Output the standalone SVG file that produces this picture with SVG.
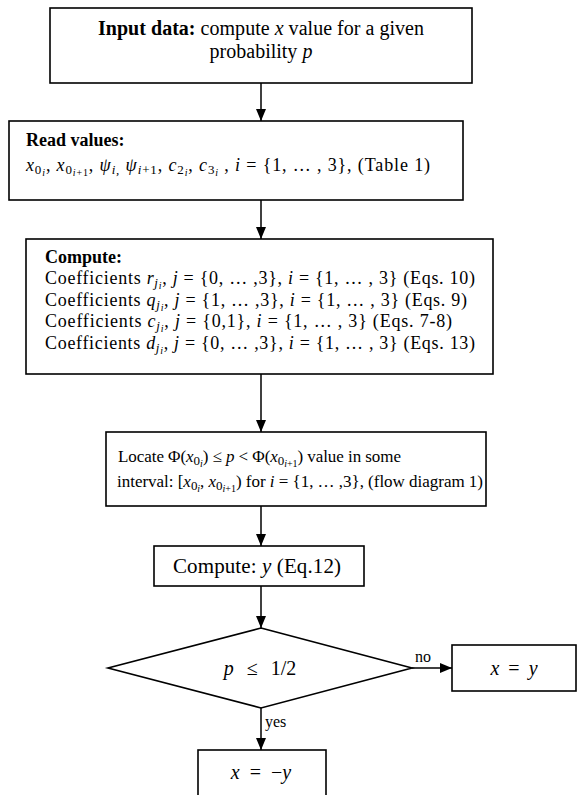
<svg xmlns="http://www.w3.org/2000/svg" width="577" height="795" viewBox="0 0 577 795">
<style>
.box{fill:#fff;stroke:#000;stroke-width:1.6}
.t{font-family:"Liberation Serif","Times New Roman",serif;font-size:18px;fill:#000}
.i{font-style:italic}
.b{font-weight:bold}
.s1{font-size:13px}
.s2{font-size:10px}
.c{text-anchor:middle}
.ln{stroke:#000;stroke-width:1.5;fill:none}
</style>
<defs>
<marker id="ah" viewBox="0 0 12 10" refX="12" refY="5" markerWidth="12" markerHeight="10" markerUnits="userSpaceOnUse" orient="auto">
<path d="M0,0 L12,5 L0,10 z" fill="#000"/>
</marker>
</defs>
<rect width="577" height="795" fill="#fff"/>
<g id="connectors">
<line class="ln" x1="261" y1="83" x2="261" y2="121" marker-end="url(#ah)"/>
<line class="ln" x1="261" y1="200" x2="261" y2="239" marker-end="url(#ah)"/>
<line class="ln" x1="261" y1="374" x2="261" y2="432" marker-end="url(#ah)"/>
<line class="ln" x1="261" y1="506" x2="261" y2="546" marker-end="url(#ah)"/>
<line class="ln" x1="261" y1="586" x2="261" y2="628" marker-end="url(#ah)"/>
<line class="ln" x1="412" y1="668" x2="452" y2="668" marker-end="url(#ah)"/>
<line class="ln" x1="261" y1="708" x2="261" y2="750" marker-end="url(#ah)"/>
<text class="t" x="415" y="662" style="font-size:16px">no</text>
<text class="t" x="265" y="727" style="font-size:16px">yes</text>
</g>
<g id="input">
<rect class="box" x="50" y="8" width="422" height="75"/>
<text class="t c" x="261" y="35" style="font-size:20px" textLength="326"><tspan class="b">Input data:</tspan> compute <tspan class="i">x</tspan> value for a given</text>
<text class="t c" x="261" y="58" style="font-size:20px">probability <tspan class="i">p</tspan></text>
</g>
<g id="read">
<rect class="box" x="9" y="121" width="454" height="79"/>
<text class="t b" x="26" y="146">Read values:</text>
<text class="t" x="26" y="171" textLength="404"><tspan class="i">x</tspan><tspan class="s1" dy="3">0</tspan><tspan class="s2 i" dy="2">i</tspan><tspan dy="-5">,  </tspan><tspan class="i">x</tspan><tspan class="s1" dy="3">0</tspan><tspan class="s2" dy="2"><tspan class="i">i</tspan>+1</tspan><tspan dy="-5">,  </tspan><tspan class="i">ψ</tspan><tspan class="s1 i" dy="3">i,</tspan><tspan dy="-3">  </tspan><tspan class="i">ψ</tspan><tspan class="s1" dy="3"><tspan class="i">i</tspan>+1</tspan><tspan dy="-3">,  </tspan><tspan class="i">c</tspan><tspan class="s1" dy="3">2</tspan><tspan class="s2 i" dy="2">i</tspan><tspan dy="-5">,  </tspan><tspan class="i">c</tspan><tspan class="s1" dy="3">3</tspan><tspan class="s2 i" dy="2">i</tspan><tspan dy="-5"> ,  </tspan><tspan class="i">i</tspan> = {1, … , 3}, (Table 1)</text>
</g>
<g id="compute">
<rect class="box" x="26" y="239" width="467" height="135"/>
<text class="t b" x="45" y="263">Compute:</text>
<text class="t" x="45" y="284" textLength="430">Coefficients <tspan class="i">r</tspan><tspan class="s1 i" dy="3">j</tspan><tspan class="s2 i" dy="2">i</tspan><tspan dy="-5">, </tspan><tspan class="i">j</tspan> = {0, … ,3}, <tspan class="i">i</tspan> = {1, … , 3} (Eqs. 10)</text>
<text class="t" x="45" y="306" textLength="422">Coefficients <tspan class="i">q</tspan><tspan class="s1 i" dy="3">j</tspan><tspan class="s2 i" dy="2">i</tspan><tspan dy="-5">, </tspan><tspan class="i">j</tspan> = {1, … ,3}, <tspan class="i">i</tspan> = {1, … , 3} (Eqs. 9)</text>
<text class="t" x="45" y="327" textLength="407">Coefficients <tspan class="i">c</tspan><tspan class="s1 i" dy="3">j</tspan><tspan class="s2 i" dy="2">i</tspan><tspan dy="-5">, </tspan><tspan class="i">j</tspan> = {0,1}, <tspan class="i">i</tspan> = {1, … , 3} (Eqs. 7-8)</text>
<text class="t" x="45" y="349" textLength="430">Coefficients <tspan class="i">d</tspan><tspan class="s1 i" dy="3">j</tspan><tspan class="s2 i" dy="2">i</tspan><tspan dy="-5">, </tspan><tspan class="i">j</tspan> = {0, … ,3}, <tspan class="i">i</tspan> = {1, … , 3} (Eqs. 13)</text>
</g>
<g id="locate">
<rect class="box" x="106" y="432" width="380" height="74"/>
<text class="t" x="118" y="462" style="font-size:17px" textLength="283">Locate  Φ(<tspan class="i">x</tspan><tspan class="s1" dy="3">0</tspan><tspan class="s2 i" dy="2">i</tspan><tspan dy="-5">) ≤ </tspan><tspan class="i">p</tspan> &lt; Φ(<tspan class="i">x</tspan><tspan class="s1" dy="3">0</tspan><tspan class="s2" dy="2"><tspan class="i">i</tspan>+1</tspan><tspan dy="-5">) value in some</tspan></text>
<text class="t" x="117" y="487" style="font-size:17px" textLength="366">interval: [<tspan class="i">x</tspan><tspan class="s1" dy="3">0</tspan><tspan class="s2 i" dy="2">i</tspan><tspan dy="-5">, </tspan><tspan class="i">x</tspan><tspan class="s1" dy="3">0</tspan><tspan class="s2" dy="2"><tspan class="i">i</tspan>+1</tspan><tspan dy="-5">) for </tspan><tspan class="i">i</tspan> = {1, … ,3}, (flow diagram 1)</text>
</g>
<g id="computey">
<rect class="box" x="154" y="546" width="210" height="40"/>
<text class="t" x="173" y="573" style="font-size:21px" textLength="168">Compute: <tspan class="i">y</tspan> (Eq.12)</text>
</g>
<g id="decision">
<polygon class="box" points="261,628 412,668 261,708 108,668"/>
<text class="t c" x="260" y="675" style="font-size:20px"><tspan class="i">p</tspan><tspan dx="8"> ≤ </tspan><tspan dx="8">1/2</tspan></text>
</g>
<g id="xy">
<rect class="box" x="452" y="645" width="124" height="46"/>
<text class="t c" x="514" y="675" style="font-size:20px"><tspan class="i">x</tspan><tspan dx="4"> = </tspan><tspan class="i" dx="4">y</tspan></text>
</g>
<g id="xmy">
<rect class="box" x="198" y="750" width="128" height="60"/>
<text class="t c" x="261" y="779" style="font-size:20px"><tspan class="i">x</tspan><tspan dx="5"> = </tspan><tspan dx="5">−</tspan><tspan class="i">y</tspan></text>
</g>
</svg>
